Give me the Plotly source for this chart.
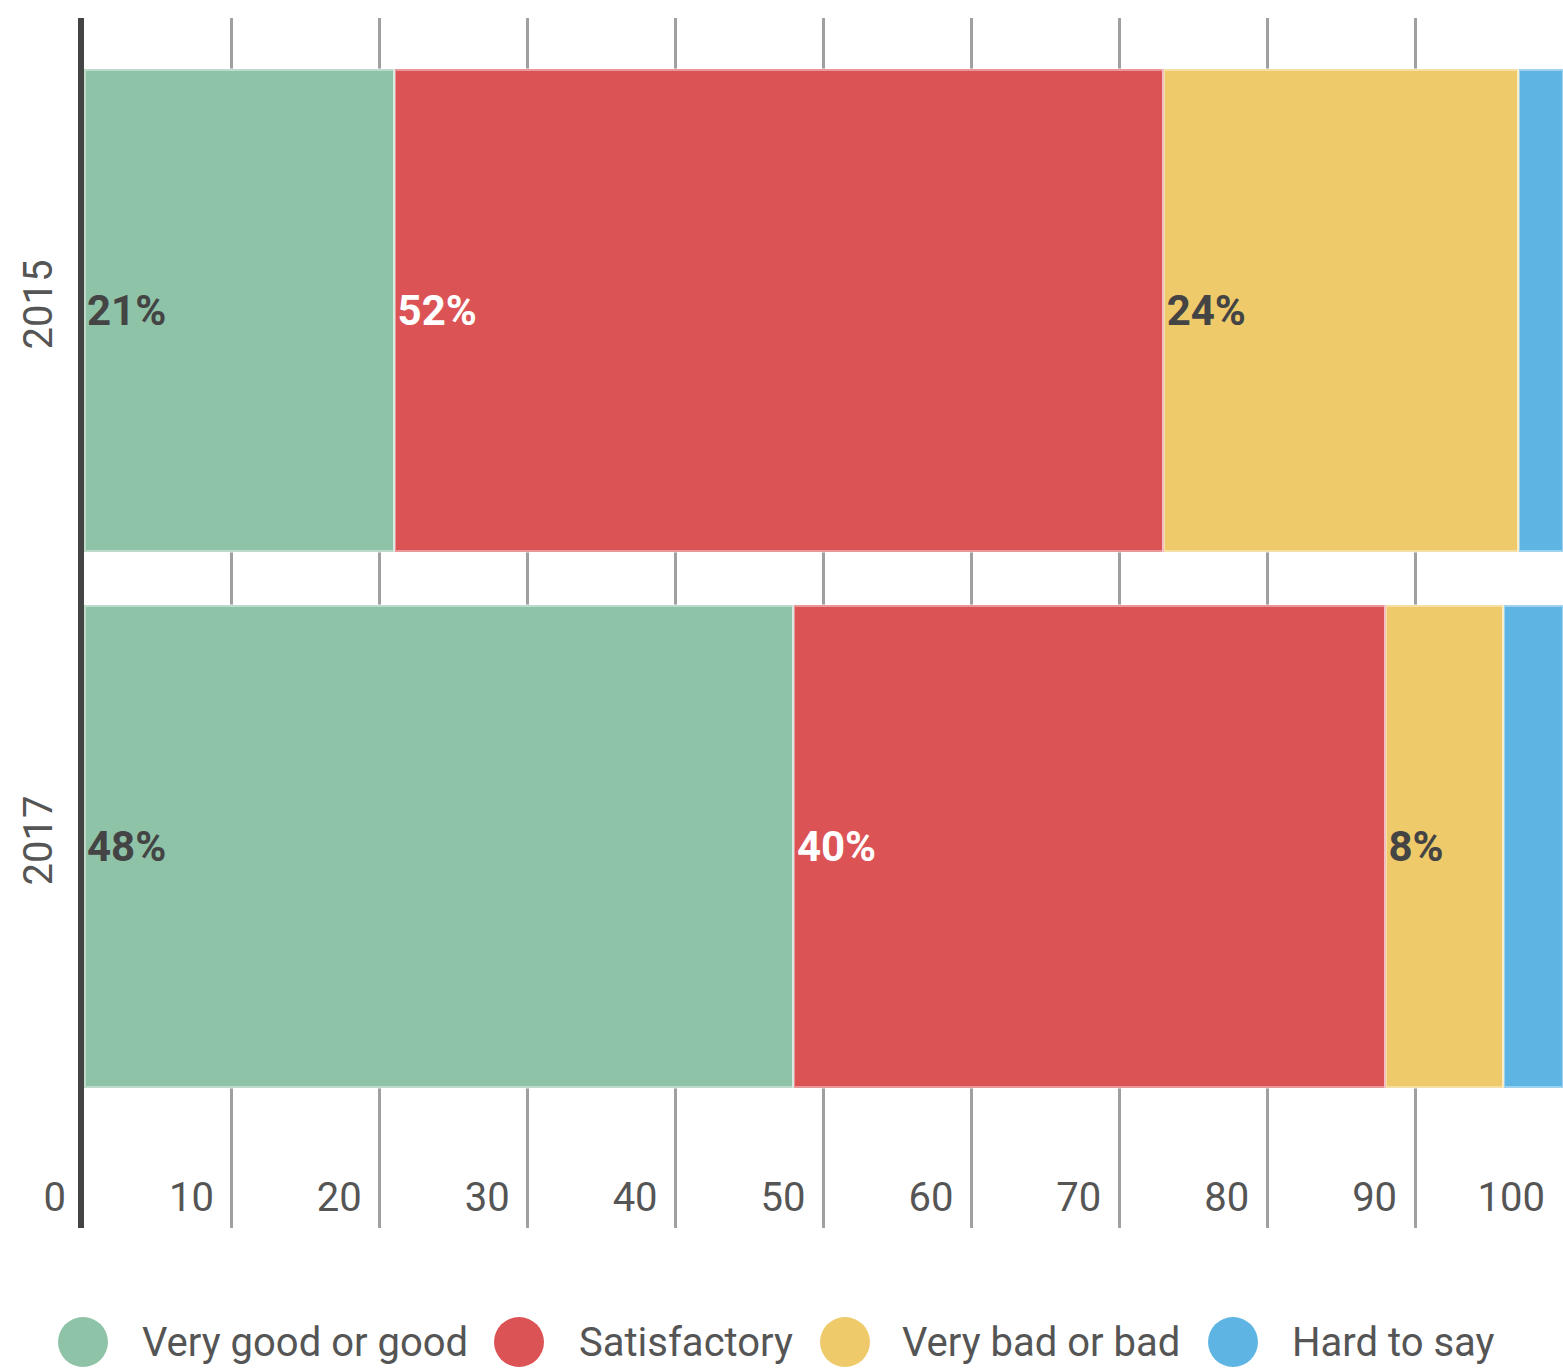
import plotly.graph_objects as go

# Survey answers by year (percent of respondents)
years = ["2015", "2017"]
categories = ["Very good or good", "Satisfactory", "Very bad or bad", "Hard to say"]
very_good_or_good = [21, 48]
satisfactory = [52, 40]
very_bad_or_bad = [24, 8]
hard_to_say = [3, 4]
x_ticks = [0, 10, 20, 30, 40, 50, 60, 70, 80, 90, 100]

series = [very_good_or_good, satisfactory, very_bad_or_bad, hard_to_say]
colors = ["#8FC3A8", "#DC5356", "#EFCA6A", "#5EB5E3"]
text_colors = ["#444444", "#FFFFFF", "#444444", "#444444"]
show_labels = [True, True, True, False]

FONT = "Roboto"
W, H = 1563, 1368
ML, MR, MT, MB = 84, 0, 18, 140
plot_w = W - ML - MR
plot_h = H - MT - MB

fig = go.Figure()
for name, vals, col, tcol, lab in zip(categories, series, colors, text_colors, show_labels):
    fig.add_trace(go.Bar(
        name=name,
        y=years,
        x=vals,
        orientation="h",
        marker=dict(color=col, line=dict(color="rgba(255,255,255,0.4)", width=3)),
        text=[f"{v}%" for v in vals] if lab else None,
        textposition="inside",
        insidetextanchor="start",
        textangle=0,
        textfont=dict(family=FONT, size=42, color=tcol, weight="bold"),
        hoverinfo="skip",
        showlegend=False,
    ))

# Legend drawn as large circles with labels under the plot
legend_circle_px = [83, 519, 845, 1233]
legend_text_px = [140, 577, 900, 1290]
legend_y_px = 1342


def px_to_paper_x(px):
    return (px - ML) / plot_w


def px_to_paper_y(py):
    return (H - MB - py) / plot_h


shapes = []
annotations = []
for name, col, cx, tx in zip(categories, colors, legend_circle_px, legend_text_px):
    shapes.append(dict(
        type="circle", xref="paper", yref="paper",
        xsizemode="pixel", ysizemode="pixel",
        xanchor=px_to_paper_x(cx), yanchor=px_to_paper_y(legend_y_px),
        x0=-25, x1=25, y0=-25, y1=25,
        fillcolor=col, line=dict(width=0),
    ))
    annotations.append(dict(
        xref="paper", yref="paper",
        x=px_to_paper_x(tx), y=px_to_paper_y(legend_y_px),
        xanchor="left", yanchor="middle",
        text=name, showarrow=False,
        font=dict(family=FONT, size=40, color="#555555"),
    ))

fig.update_layout(
    width=W, height=H,
    margin=dict(l=ML, r=MR, t=MT, b=MB, pad=0),
    barmode="stack",
    bargap=0.1,
    plot_bgcolor="white",
    paper_bgcolor="white",
    font=dict(family=FONT, color="#555555"),
    shapes=shapes,
    annotations=annotations,
)

fig.update_xaxes(
    range=[0, 100],
    tickvals=x_ticks,
    ticktext=[str(t) for t in x_ticks],
    ticks="",
    ticklabelposition="inside left",
    ticklabeloverflow="allow",
    ticklabelstandoff=3,
    ticklabelshift=-18,
    tickfont=dict(family=FONT, size=40, color="#555555"),
    showgrid=True,
    gridcolor="#A0A0A0",
    gridwidth=3,
    zeroline=False,
    showline=False,
)

fig.update_yaxes(
    type="category",
    categoryorder="array",
    categoryarray=years,
    range=[1.712, -0.546],
    tickangle=-90,
    ticks="",
    ticklabelstandoff=10,
    tickfont=dict(family=FONT, size=40, color="#555555"),
    showgrid=False,
    zeroline=False,
    showline=True,
    linecolor="#444444",
    linewidth=6,
    layer="below traces",
)

fig.write_html("out.html")
